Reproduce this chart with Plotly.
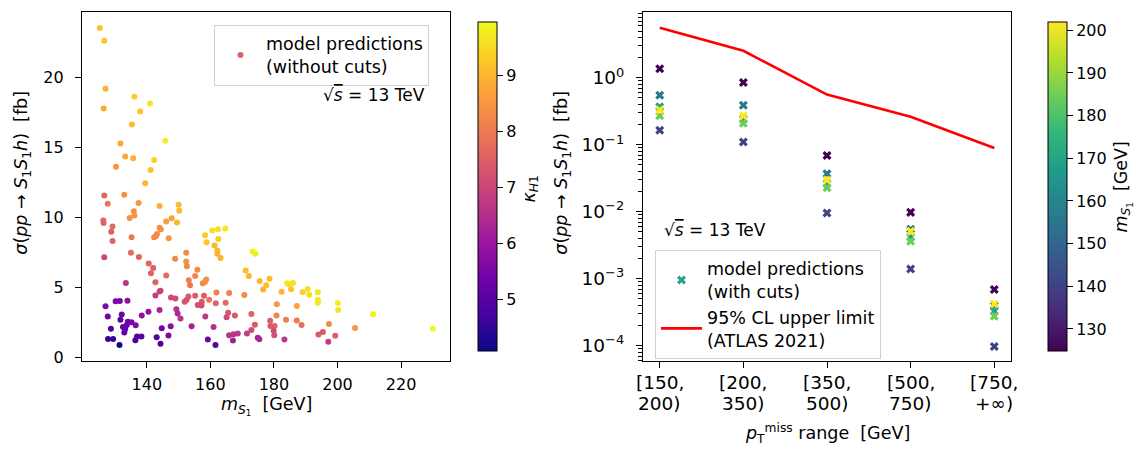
import plotly.graph_objects as go

# ---------------- left panel: cross sections without cuts ----------------
m_s1 = [
    125.2, 126.6, 127.0, 136.1, 141.0, 126.4, 137.9, 135.3, 145.8, 131.7,
    133.2, 135.7, 142.3, 130.3, 141.2, 139.5,
    126.6, 132.9, 127.7, 137.4, 144.0, 150.0, 135.9, 150.2, 136.1, 134.6,
    147.8, 126.3, 126.4, 146.1, 149.5, 129.2, 144.0, 144.4, 160.6, 162.4,
    164.7, 128.8, 143.2, 142.3, 142.9, 135.2, 158.3, 162.5, 146.9, 129.2,
    158.8, 161.3, 162.2, 162.2, 163.2, 135.0, 137.5, 126.6, 148.9, 152.4,
    152.4, 152.6, 140.6, 142.0, 155.9, 141.3, 146.1, 153.2, 158.7, 158.3,
    157.6, 142.7, 133.4, 153.6, 155.2, 171.1, 172.1, 173.3, 174.2, 175.5,
    178.6, 177.6, 176.6, 144.0, 144.3, 142.7, 147.6, 149.0, 151.9, 153.1,
    152.5, 155.2, 158.0, 157.3, 159.6, 161.9, 165.9, 170.7, 161.7, 164.8,
    156.0, 157.2, 127.0, 130.2, 131.5, 133.9, 140.5, 144.0, 149.3, 149.7,
    150.6, 127.7, 132.1, 138.4, 131.7, 134.0, 135.2, 136.5, 132.5, 133.2,
    133.7, 132.9, 128.7, 144.7, 147.5, 154.1, 158.4, 161.0, 165.1, 165.6,
    167.7, 172.9, 174.0, 172.9, 171.5, 168.6, 167.3, 165.9, 167.1, 174.9,
    175.4, 159.2, 161.6, 127.8, 129.4, 131.4, 136.4, 136.9, 138.3, 143.1,
    144.3, 146.8, 178.8, 180.2, 180.1, 180.8, 180.9,
    184.2, 184.8, 186.0, 182.4, 185.4, 189.0, 190.6, 191.1, 193.8, 193.8,
    193.8, 200.1, 200.2, 211.2, 230.0, 187.2, 183.8, 187.2, 188.7, 197.3,
    205.5, 178.9, 179.9, 183.3, 194.0, 195.4, 199.3, 197.1,
]
sigma_nocuts = [
    23.55, 22.63, 19.21, 18.64, 18.15, 17.80, 17.59, 16.65, 15.50, 15.29,
    14.37, 14.25, 14.11, 13.64, 13.41, 12.45,
    11.58, 11.63, 10.99, 11.04, 10.83, 10.92, 10.45, 10.50, 10.15, 9.98,
    9.96, 9.80, 9.61, 9.72, 9.65, 9.37, 9.28, 9.18, 9.09, 9.18,
    9.23, 9.00, 8.83, 8.60, 8.69, 8.60, 8.74, 8.48, 8.53, 8.34,
    8.25, 8.01, 7.66, 7.42, 7.12, 7.49, 7.19, 7.17, 7.07, 7.49,
    6.86, 6.53, 6.72, 6.41, 6.27, 6.02, 5.87, 5.52, 5.59, 5.40,
    5.31, 5.38, 5.34, 5.17, 5.83, 6.23, 5.83, 7.59, 7.42, 5.48,
    5.64, 5.17, 4.87, 4.72, 4.77, 4.44, 4.30, 4.23, 4.00, 4.37,
    4.11, 4.42, 4.42, 4.00, 4.14, 4.65, 4.61, 4.47, 3.88, 3.93,
    3.76, 3.72, 3.67, 4.02, 4.04, 4.07, 3.27, 3.41, 3.46, 3.15,
    2.80, 2.94, 3.08, 3.01, 2.71, 2.57, 2.52, 2.31, 2.19, 2.05,
    2.33, 1.79, 2.07, 2.10, 2.24, 2.24, 2.94, 2.19, 2.89, 3.20,
    3.01, 3.11, 2.35, 1.98, 1.72, 1.72, 1.67, 1.60, 1.23, 1.42,
    1.32, 1.30, 0.90, 1.34, 1.34, 0.90, 1.25, 1.51, 1.51, 1.46,
    0.99, 1.58, 2.64, 2.26, 1.60, 3.01, 3.81,
    5.31, 5.24, 5.34, 4.70, 4.89, 4.68, 4.91, 4.49, 4.68, 4.14,
    3.93, 3.90, 3.41, 3.10, 2.07, 3.69, 2.71, 2.66, 2.33, 2.40,
    2.12, 2.26, 1.93, 1.30, 1.65, 1.84, 1.56, 1.13,
]
kappa_h1 = [
    9.2, 9.2, 8.9, 9.3, 9.7, 8.8, 9.2, 9.1, 9.8, 8.8,
    8.8, 8.9, 9.4, 8.5, 9.2, 9.0,
    7.6, 8.4, 7.9, 8.5, 8.9, 9.1, 8.4, 9.1, 8.5, 8.4,
    8.7, 7.6, 7.6, 8.6, 9.0, 7.7, 8.4, 8.4, 9.6, 9.6,
    9.7, 7.5, 8.3, 8.3, 8.3, 8.0, 9.3, 9.3, 8.5, 7.6,
    9.2, 9.0, 9.0, 8.9, 9.0, 7.7, 7.6, 7.0, 8.2, 8.3,
    8.4, 8.3, 7.6, 7.5, 8.3, 7.5, 7.7, 8.1, 8.4, 8.4,
    8.3, 7.5, 6.6, 7.9, 8.2, 9.1, 9.0, 9.8, 9.8, 9.0,
    9.1, 9.1, 8.9, 6.9, 6.9, 6.8, 7.1, 7.1, 7.4, 7.4,
    7.3, 7.4, 7.5, 7.4, 7.9, 8.1, 8.1, 8.3, 7.6, 7.7,
    7.2, 7.2, 5.6, 5.5, 5.5, 5.8, 5.9, 6.3, 6.5, 6.4,
    6.6, 5.4, 5.3, 5.9, 5.0, 5.3, 5.5, 5.6, 5.1, 5.2,
    5.2, 5.1, 4.9, 5.4, 5.8, 6.2, 6.7, 6.5, 7.1, 7.3,
    7.4, 7.6, 7.4, 7.1, 6.8, 6.7, 6.6, 6.6, 6.2, 6.3,
    6.3, 5.4, 5.0, 4.5, 4.5, 4.07, 4.7, 5.0, 5.0, 4.9,
    4.8, 5.6, 7.5, 7.6, 7.2, 8.2, 8.5,
    9.7, 9.6, 9.6, 9.0, 9.2, 9.4, 9.6, 9.6, 9.7, 9.7,
    9.7, 9.8, 9.7, 9.8, 9.96, 8.7, 8.1, 8.0, 7.8, 8.3,
    8.5, 7.4, 7.1, 6.7, 7.4, 7.4, 7.5, 6.8,
]
kappa_ticks = [5, 6, 7, 8, 9]

# ---------------- right panel: cross sections with cuts ----------------
bin_lower = ["[150,", "[200,", "[350,", "[500,", "[750,"]
bin_upper = ["200)", "350)", "500)", "750)", "+∞)"]
atlas_limit = [5.6, 2.53, 0.561, 0.263, 0.0895]
bench_mass = [124.8, 140.3, 155.6, 169.0, 184.5, 201.9]
sigma_cuts = [
    [1.37, 0.853, 0.069, 0.0098, 0.00069],
    [0.165, 0.11, 0.0096, 0.0014, 0.0000975],
    [0.548, 0.39, 0.037, 0.0055, 0.00040],
    [0.369, 0.24, 0.0264, 0.0042, 0.00033],
    [0.272, 0.21, 0.0228, 0.00363, 0.000276],
    [0.33, 0.272, 0.0298, 0.0051, 0.00042],
]
mass_ticks = [130, 140, 150, 160, 170, 180, 190, 200]

W, H = 1136, 453
FONT = "DejaVu Sans"
TICK_L = 16      # left panel and colorbar tick labels
TICK_R = 18.5    # right panel tick labels
TXT = 17.5       # titles, legends
bins = list(range(len(bin_lower)))


def px(x):
    return x / W


def py(y):
    return 1 - y / H


def fnt(size):
    return dict(family=FONT, size=size, color="black")


def cbar(x_left, ticks):
    return dict(
        x=px(x_left), xanchor="left", y=py(366), yanchor="bottom",
        len=(366 - 12) / H, lenmode="fraction", thickness=19,
        thicknessmode="pixels", outlinewidth=1, outlinecolor="black",
        tickvals=ticks, ticks="outside", ticklen=6, tickwidth=1.2,
        tickcolor="black", tickfont=fnt(TICK_L),
    )


fig = go.Figure()

# left scatter, coloured by kappa
fig.add_trace(go.Scatter(
    x=m_s1, y=sigma_nocuts, mode="markers", xaxis="x", yaxis="y",
    showlegend=False,
    marker=dict(color=kappa_h1, colorscale="Plasma", cmin=4.07, cmax=9.96,
                size=6, line=dict(width=0), colorbar=cbar(468, kappa_ticks)),
))
fig.add_trace(go.Scatter(
    x=[None], y=[None], mode="markers", xaxis="x", yaxis="y",
    name="model predictions<br>(without cuts)", legend="legend",
    marker=dict(color="#e0606a", size=6),
))

# right panel: ATLAS limit and benchmark points
fig.add_trace(go.Scatter(
    x=bins, y=atlas_limit, mode="lines",
    xaxis="x2", yaxis="y2", legend="legend2",
    name="95% CL upper limit<br>(ATLAS 2021)",
    line=dict(color="#ff0000", width=2.6), legendrank=2,
))
for mass, vals in zip(bench_mass, sigma_cuts):
    fig.add_trace(go.Scatter(
        x=bins, y=vals, mode="markers",
        xaxis="x2", yaxis="y2", showlegend=False,
        marker=dict(
            symbol="x", size=8, color=[mass] * len(vals),
            colorscale="Viridis", cmin=124.8, cmax=201.9, line=dict(width=0),
            showscale=(mass == bench_mass[0]), colorbar=cbar(1038, mass_ticks),
        ),
    ))
fig.add_trace(go.Scatter(
    x=[None], y=[None], mode="markers", xaxis="x2", yaxis="y2",
    name="model predictions<br>(with cuts)", legend="legend2", legendrank=1,
    marker=dict(symbol="x", color="#25a38a", size=8, line=dict(width=0)),
))


def axis_common(size, standoff):
    return dict(
        showline=True, mirror=True, linecolor="black", linewidth=1.2,
        ticks="outside", ticklen=6, tickwidth=1.2, tickcolor="black",
        showgrid=False, zeroline=False, tickfont=fnt(size),
        ticklabelstandoff=standoff,
    )


minor_vals = [k * 10.0 ** e for e in range(-5, 1) for k in range(2, 10)]

fig.update_layout(
    width=W, height=H, autosize=False,
    margin=dict(l=0, r=0, t=0, b=0),
    plot_bgcolor="white", paper_bgcolor="white",
    font=fnt(TXT),
    xaxis=dict(domain=[px(82), px(450)], range=[119.6, 235.4],
               tickvals=[140, 160, 180, 200, 220], anchor="y",
               **axis_common(TICK_L, 3)),
    yaxis=dict(domain=[py(366), py(12)], range=[-0.25, 24.7],
               tickvals=[0, 5, 10, 15, 20], anchor="x",
               **axis_common(TICK_L, 8)),
    xaxis2=dict(domain=[px(643), px(1011)], range=[-0.2, 4.2],
                tickvals=bins, showticklabels=False,
                anchor="y2", **axis_common(TICK_R, 3)),
    yaxis2=dict(domain=[py(366), py(12)], type="log", range=[-4.23, 0.985],
                tickvals=[1e-4, 1e-3, 1e-2, 1e-1, 1],
                ticktext=["10<sup>−4</sup>", "10<sup>−3</sup>", "10<sup>−2</sup>",
                          "10<sup>−1</sup>", "10<sup>0</sup>"],
                minor=dict(tickvals=minor_vals, ticks="outside", ticklen=3.5,
                           tickwidth=1, tickcolor="black"),
                anchor="x2", **axis_common(TICK_R, 8)),
    legend=dict(
        x=px(214), y=py(25), xanchor="left", yanchor="top", itemwidth=41,
        bgcolor="rgba(255,255,255,0.8)", bordercolor="#d0d0d0", borderwidth=1,
        font=fnt(TXT),
    ),
    legend2=dict(
        x=px(655), y=py(253), xanchor="left", yanchor="top", itemwidth=41,
        bgcolor="rgba(255,255,255,0.8)", bordercolor="#d0d0d0", borderwidth=1,
        font=fnt(TXT),
    ),
)

sqrt_s = "√<span style='text-decoration:overline'><i>s</i></span> = 13 TeV"
sigma_title = ("<i>σ</i>(<i>pp</i> → <i>S</i><sub>1</sub><i>S</i><sub>1</sub><i>h</i>)"
               "  [fb]")
annotations = [
    dict(text=sqrt_s, x=px(427), y=py(96), xanchor="right", yanchor="middle",
         font=fnt(17)),
    dict(text=sqrt_s, x=px(662), y=py(233), xanchor="left", yanchor="middle",
         font=fnt(17)),
    dict(text=sigma_title, x=px(23), y=py(175), textangle=-90,
         xanchor="center", yanchor="middle"),
    dict(text=sigma_title, x=px(563), y=py(175), textangle=-90,
         xanchor="center", yanchor="middle"),
    dict(text="<i>m</i><sub><i>S</i><sub>1</sub></sub>  [GeV]", x=px(266), y=py(411),
         xanchor="center", yanchor="middle"),
    dict(text="<i>p</i><sub>T</sub><sup>miss</sup> range  [GeV]", x=px(827), y=py(439),
         xanchor="center", yanchor="middle"),
    dict(text="<i>κ</i><sub><i>H</i>1</sub>", x=px(530), y=py(192), textangle=-90,
         xanchor="center", yanchor="middle"),
    dict(text="<i>m</i><sub><i>S</i><sub>1</sub></sub>  [GeV]", x=px(1123), y=py(190),
         textangle=-90, xanchor="center", yanchor="middle"),
]
# two-line bin labels under the right panel, placed on the category axis
for i, (lo, hi) in enumerate(zip(bin_lower, bin_upper)):
    annotations.append(dict(text=lo, x=i, xref="x2", y=py(388), yanchor="middle",
                            xanchor="center", font=fnt(TICK_R)))
    annotations.append(dict(text=hi, x=i, xref="x2", y=py(409), yanchor="middle",
                            xanchor="center", font=fnt(TICK_R)))
for a in annotations:
    a.setdefault("xref", "paper")
    a.setdefault("font", fnt(TXT))
    a.update(yref="paper", showarrow=False)
fig.update_layout(annotations=annotations)

fig.write_html("out.html")
